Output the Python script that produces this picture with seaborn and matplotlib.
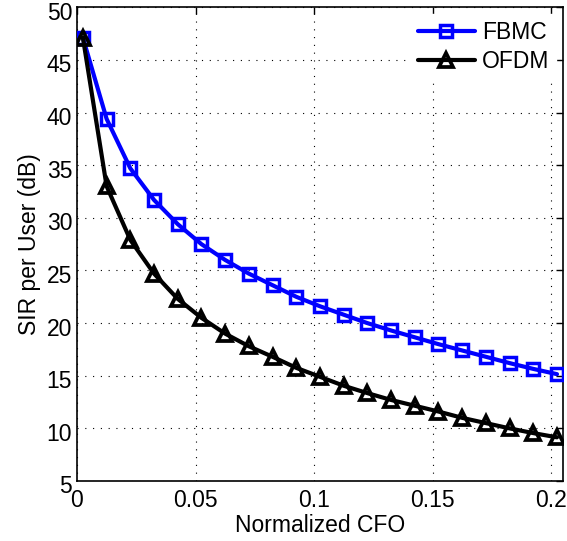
import numpy as np
import pandas as pd
import matplotlib
matplotlib.use("Agg")
import matplotlib.pyplot as plt
import matplotlib.transforms as mtransforms
import seaborn as sns

cfo = [0.0025, 0.0125, 0.0225, 0.0325, 0.0425, 0.0525, 0.0625, 0.0725, 0.0825, 0.0925,
       0.1025, 0.1125, 0.1225, 0.1325, 0.1425, 0.1525, 0.1625, 0.1725, 0.1825, 0.1925, 0.2025]
fbmc = [47.1, 39.4, 34.7, 31.7, 29.4, 27.5, 26.0, 24.7, 23.6, 22.5,
        21.6, 20.8, 20.0, 19.3, 18.65, 18.0, 17.4, 16.8, 16.2, 15.65, 15.15]
ofdm = [47.1, 33.0, 27.9, 24.7, 22.3, 20.5, 19.0, 17.8, 16.8, 15.75,
        14.9, 14.05, 13.35, 12.7, 12.15, 11.6, 11.0, 10.5, 10.0, 9.55, 9.15]
xticks = [0, 0.05, 0.1, 0.15, 0.2]
xticklabels = ["0", "0.05", "0.1", "0.15", "0.2"]
yticks = list(range(5, 51, 5))

sns.set_style("white")
plt.rcParams['font.family'] = ['Liberation Sans', 'DejaVu Sans']
plt.rcParams['text.color'] = 'black'
plt.rcParams['axes.labelcolor'] = 'black'
plt.rcParams['xtick.color'] = 'black'
plt.rcParams['ytick.color'] = 'black'

fig = plt.figure(figsize=(5.67, 5.41), dpi=100)
ax = fig.add_axes([0.1358, 0.1109, 0.857, 0.8756])

sns.lineplot(x=cfo, y=fbmc, ax=ax, color='#0000ff', lw=3, marker='s', markersize=8,
             markerfacecolor='none', markeredgecolor='#0000ff', markeredgewidth=2.5,
             label='FBMC', zorder=3)
sns.lineplot(x=cfo, y=ofdm, ax=ax, color='black', lw=3, marker='^', markersize=10.5,
             markerfacecolor='none', markeredgecolor='black', markeredgewidth=2.7,
             label='OFDM', zorder=3)

ax.set_xlim(0, 0.205)
ax.set_ylim(5, 50)
ax.set_xticks(xticks)
ax.set_xticklabels(xticklabels)
ax.set_yticks(yticks)
ax.set_yticklabels([str(v) for v in yticks])
ax.tick_params(direction='in', length=5, width=1, labelsize=16.5, top=True, right=True,
               color='black', labelcolor='black')
ax.tick_params(axis='x', pad=6)
offset = mtransforms.ScaledTranslation(0, -2.5 / 72, fig.dpi_scale_trans)
for tick in ax.yaxis.get_major_ticks():
    tick.label1.set_transform(tick.label1.get_transform() + offset)
ax.grid(True, color='black', linestyle=(0, (1, 6)), linewidth=0.8)
for s in ax.spines.values():
    s.set_visible(True)
    s.set_color('black')
    s.set_linewidth(1.2)

ax.set_xlabel('Normalized CFO', fontsize=16.5, labelpad=1, color='black')
ax.set_ylabel('SIR per User (dB)', fontsize=16.5, labelpad=4, color='black')

leg = ax.legend(loc='upper right', fontsize=16.5, frameon=True, fancybox=False,
                handlelength=2.5, labelspacing=0.25, handletextpad=0.3,
                borderaxespad=0.3, borderpad=0.3)
leg.get_frame().set_edgecolor('white')
leg.get_frame().set_facecolor('white')
leg.get_frame().set_alpha(1)
for t in leg.get_texts():
    t.set_color('black')

fig.savefig('out.png', dpi=100)
